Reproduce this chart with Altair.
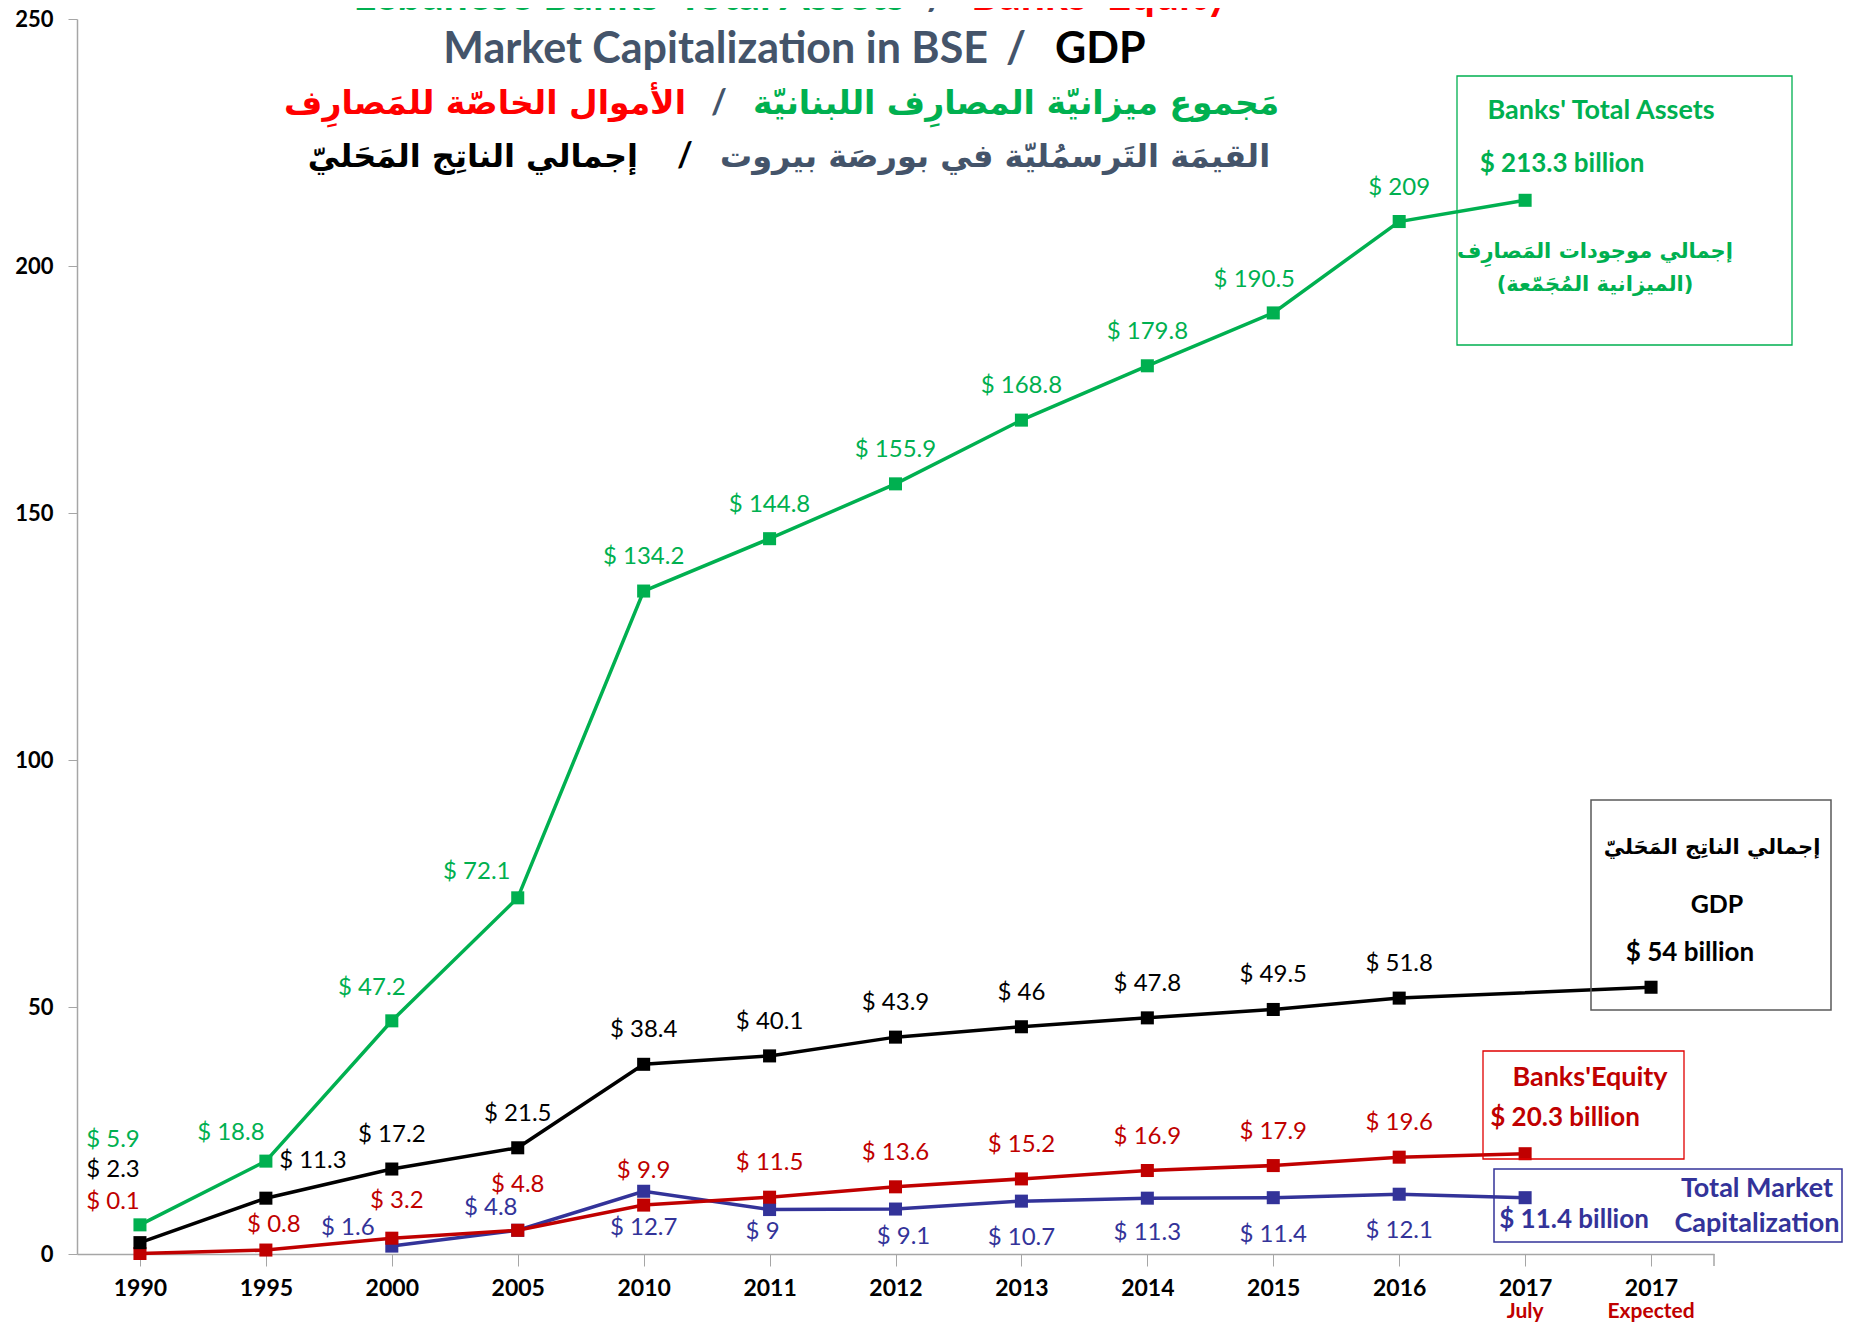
import altair as alt
import pandas as pd

# ---------------- data ----------------
categories = ["1990", "1995", "2000", "2005", "2010", "2011", "2012", "2013",
              "2014", "2015", "2016", "2017 July", "2017 Expected"]
total_assets = [5.9, 18.8, 47.2, 72.1, 134.2, 144.8, 155.9, 168.8, 179.8, 190.5, 209, 213.3, None]
gdp = [2.3, 11.3, 17.2, 21.5, 38.4, 40.1, 43.9, 46, 47.8, 49.5, 51.8, None, 54]
equity = [0.1, 0.8, 3.2, 4.8, 9.9, 11.5, 13.6, 15.2, 16.9, 17.9, 19.6, 20.3, None]
market_cap = [None, None, 1.6, 4.8, 12.7, 9, 9.1, 10.7, 11.3, 11.4, 12.1, 11.4, None]

# label nudges (pixels), styling only
ta_dx = [-27, -35, -20, -41, 0, 0, 0, 0, 0, -19, 0, 0, 0]
ta_dy = [-85, -28, -33, -26, -34, -34, -34, -34, -34, -33, -34, 0, 0]
gdp_dx = [-27, 47, 0, 0, 0, 0, 0, 0, 0, 0, 0, 0, 0]
gdp_dy = [-73, -37, -34, -34, -34, -34, -34, -34, -34, -34, -34, 0, 0]
eq_dx = [-27, 8, 5, 0, 0, 0, 0, 0, 0, 0, 0, 0, 0]
eq_dy = [-52, -25, -37, -45, -34, -34, -34, -34, -34, -34, -34, 0, 0]
mc_dx = [0, 0, -44, -27, 0, -7, 8, 0, 0, 0, 0, 0, 0]
mc_dy = [0, 0, -18, -22, 37, 22, 28, 37, 35, 37, 37, 0, 0]

W, H = 1637, 1235
YMAX = 250
GREEN, BLACK, RED, BLUE = "#00B050", "#000000", "#C00000", "#333399"
SLATE = "#44546A"

series = [
    ("Total Market Capitalization", market_cap, BLUE, mc_dx, mc_dy),
    ("Banks' Equity", equity, RED, eq_dx, eq_dy),
    ("GDP", gdp, BLACK, gdp_dx, gdp_dy),
    ("Banks' Total Assets", total_assets, GREEN, ta_dx, ta_dy),
]

x_enc = alt.X("cat:N", sort=categories,
              scale=alt.Scale(type="point", domain=categories, padding=0.5),
              axis=alt.Axis(title=None, labelAngle=0, labelExpr="split(datum.label, ' ')[0]",
                            labelFont="Lato", labelFontWeight="bold", labelFontSize=23,
                            labelColor="#000000", labelPadding=11, tickSize=12,
                            tickColor="#A6A6A6", domainColor="#A6A6A6", domainWidth=1.5,
                            grid=False))
y_scale = alt.Scale(domain=[0, YMAX], nice=False)
y_enc = alt.Y("value:Q", scale=y_scale,
              axis=alt.Axis(title=None, values=[0, 50, 100, 150, 200, 250],
                            labelFont="Lato", labelFontWeight="bold", labelFontSize=22,
                            labelColor="#000000", labelPadding=15, tickSize=9,
                            tickColor="#A6A6A6", domainColor="#A6A6A6", domainWidth=1.5,
                            grid=False))

layers = []
for name, vals, color, dxs, dys in series:
    rows = []
    for i, c in enumerate(categories):
        v = vals[i]
        if v is None:
            continue
        rows.append({"cat": c, "value": v, "label": f"$ {v:g}",
                     "ly": v - dys[i] * YMAX / H,
                     "dx": dxs[i], "show": i < 11})
    df = pd.DataFrame(rows)
    base = alt.Chart(df)
    layers.append(base.mark_line(color=color, strokeWidth=3.5).encode(x=x_enc, y=y_enc))
    layers.append(base.mark_square(color=color, size=170, opacity=1).encode(x=x_enc, y=y_enc))
    layers.append(
        base.transform_filter("datum.show").mark_text(
            font="Lato", fontSize=24, color=color, align="center", baseline="middle"
        ).encode(x=x_enc, y=alt.Y("ly:Q", scale=y_scale), text="label:N",
                 xOffset=alt.XOffset("dx:Q", scale=None))
    )

# sub-labels for the 2017 categories
sub_df = pd.DataFrame({"cat": categories,
                       "sub": [c.split(" ")[1] if " " in c else "" for c in categories]})
layers.append(alt.Chart(sub_df).mark_text(font="Lato", fontSize=21, fontWeight="bold",
                                          color=RED, baseline="middle").encode(
    x=x_enc, y=alt.value(H + 58), text="sub:N"))

one = pd.DataFrame({"a": [0]})


def txt(s, x, y, color, size, weight="bold", font="Lato", align="center", baseline="middle"):
    return alt.Chart(one).mark_text(text=s, font=font, fontSize=size, fontWeight=weight,
                                    color=color, align=align, baseline=baseline).encode(
        x=alt.value(x), y=alt.value(y))


def box(x1, y1, x2, y2, color, width=1.3):
    return alt.Chart(one).mark_rect(fillOpacity=0, stroke=color, strokeWidth=width).encode(
        x=alt.value(x1), x2=alt.value(x2), y=alt.value(y1), y2=alt.value(y2))


# end tick of the x axis
layers.append(alt.Chart(one).mark_rule(color="#A6A6A6", strokeWidth=1.5).encode(
    x=alt.value(W), y=alt.value(H), y2=alt.value(H + 12)))

AR = "DejaVu Sans"
B = "alphabetic"
# titles
layers += [
    txt("Lebanese Banks' Total Assets", 828, -9, GREEN, 43, align="right", baseline=B),
    txt("/", 860, -9, SLATE, 43, baseline=B),
    txt("Banks' Equity", 894, -9, "#FF0000", 43, align="left", baseline=B),
    txt("Market Capitalization in BSE", 911, 44, SLATE, 43, align="right", baseline=B),
    txt("/", 939, 44, SLATE, 43, baseline=B),
    txt("GDP", 978, 44, BLACK, 43, align="left", baseline=B),
    txt("الأموال الخاصّة للمَصارِف", 609, 85, "#FF0000", 33, font=AR, align="right"),
    txt("/", 642, 85, SLATE, 34),
    txt("مَجموع ميزانيّة المصارِف اللبنانيّة", 676, 85, GREEN, 33, font=AR, align="left"),
    txt("إجمالي الناتِج المَحَليّ", 561, 138, BLACK, 32, font=AR, align="right"),
    txt("/", 608, 138, BLACK, 34),
    txt("القيمَة التَرسمُليّة في بورصَة بيروت", 643, 138, SLATE, 32, font=AR, align="left"),
]

# annotation boxes
layers += [
    box(1380, 57, 1715, 326, GREEN),
    txt("Banks' Total Assets", 1524, 92, GREEN, 27),
    txt(f"$ {total_assets[11]:g} billion", 1485, 145, GREEN, 26),
    txt("إجمالي موجودات المَصارِف", 1518, 233, GREEN, 21, font=AR),
    txt("(الميزانية المُجَمّعة)", 1518, 266, GREEN, 21, font=AR),

    box(1514, 781, 1754, 991, "#595959", 1.5),
    txt("إجمالي الناتِج المَحَليّ", 1635, 829, BLACK, 21, font=AR),
    txt("GDP", 1640, 886, BLACK, 25),
    txt(f"$ {gdp[12]:g} billion", 1613, 934, BLACK, 26),

    box(1406, 1032, 1607, 1140, "#E00000"),
    txt("Banks'Equity", 1513, 1059, RED, 27),
    txt(f"$ {equity[11]:g}  billion", 1488, 1099, RED, 26),

    box(1417, 1150, 1765, 1223, BLUE, 1.5),
    txt("Total Market", 1680, 1170, BLUE, 27),
    txt("Capitalization", 1680, 1205, BLUE, 27),
    txt(f"$ {market_cap[11]:g} billion", 1497, 1201, BLUE, 26),
]

chart = alt.layer(*layers).properties(
    width=W, height=H,
    padding={"left": 69, "top": 11, "right": 130, "bottom": 71},
    autosize=alt.AutoSizeParams(type="none"),
).configure_view(strokeWidth=0)

chart.save("out.html", embed_options={"renderer": "svg", "actions": False})
